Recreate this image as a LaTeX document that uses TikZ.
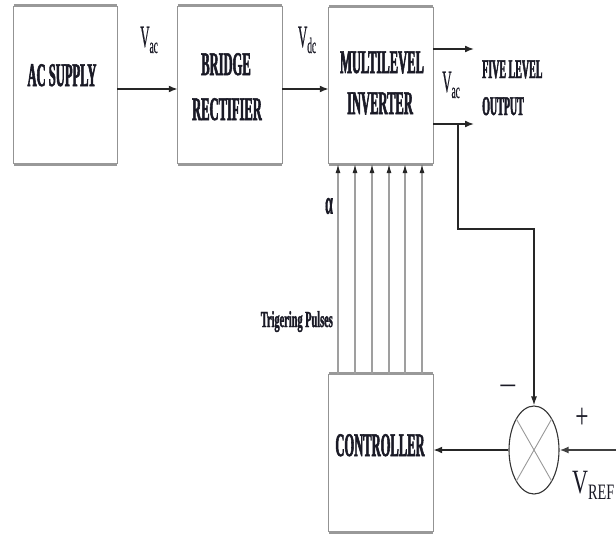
\documentclass[tikz,border=0pt]{standalone}
\usepackage{fontspec}
\setmainfont{Liberation Serif}
\newfontfamily\cBox[FakeStretch=0.38,BoldFeatures={FakeBold=1.6}]{Liberation Serif}
\newfontfamily\cOut[FakeStretch=0.37,BoldFeatures={FakeBold=1.6}]{Liberation Serif}
\newfontfamily\cTrig[FakeStretch=0.45,BoldFeatures={FakeBold=1.4}]{Liberation Serif}
\newfontfamily\cLab[FakeStretch=0.42,FakeBold=0.4]{Liberation Serif}
\newfontfamily\cRef[FakeStretch=0.65]{Liberation Serif}
\usetikzlibrary{arrows.meta,shapes.geometric,calc}
\definecolor{ink}{HTML}{1A1A26}
\begin{document}
\begin{tikzpicture}[x=1pt,y=-1pt,
  blk/.style={rectangle,draw=none,inner sep=0pt,minimum width=104pt,minimum height=158pt},
  side/.style={draw=gray!85,line width=0.9pt},
  tb/.style={draw=gray!80,line width=3pt},
  conn/.style={draw=black!85,line width=1.8pt,-{Latex[length=9pt,width=7pt]}},
  fbk/.style={draw=black!85,line width=1.3pt,-{Latex[length=9pt,width=6pt]}},
  trig/.style={draw=gray!75,line width=1.1pt,-{Latex[length=9pt,width=5pt,color=black!85]}},
  boxtxt/.style={anchor=base,inner sep=0pt,text=ink,font=\cBox\bfseries\fontsize{33}{33}\selectfont},
  lab/.style={anchor=base,inner sep=0pt,text=ink,font=\cLab\fontsize{31}{31}\selectfont}]
\useasboundingbox (0,0) rectangle (616,533);

% blocks
\node[blk,minimum width=103pt] (ac) at (65.5,85) {};
\node[blk] (br) at (230,85) {};
\node[blk,minimum height=157pt] (mi) at (381,85.5) {};
\node[blk] (ctl) at (381,453) {};
\foreach \b in {ac,br,mi,ctl}{
  \draw[side] (\b.north west) -- (\b.south west);
  \draw[side] (\b.north east) -- (\b.south east);
  \draw[tb] (\b.north west) -- (\b.north east);
  \draw[tb] (\b.south west) -- (\b.south east);
}

% block texts
\node[boxtxt] (tac) at (62,86) {AC SUPPLY};
\node[boxtxt] (tbr1) at (226,75) {BRIDGE};
\node[boxtxt] (tbr2) at (227,120) {RECTIFIER};
\node[boxtxt] (tmi1) at (382,73) {MULTILEVEL};
\node[boxtxt] (tmi2) at (380,114) {INVERTER};
\node[boxtxt] (tctl) at (380,456) {CONTROLLER};

% summing junction
\node[ellipse,draw=black!80,line width=1.1pt,minimum width=50pt,minimum height=88pt,inner sep=0pt] (sum) at (534,450) {};
\draw[draw=gray!80,line width=0.9pt] ($(sum.center)+(-17.7,-31.1)$) -- ($(sum.center)+(17.7,31.1)$);
\draw[draw=gray!80,line width=0.9pt] ($(sum.center)+(17.7,-31.1)$) -- ($(sum.center)+(-17.7,31.1)$);

% forward path
\draw[conn] ([yshift=-4pt]ac.east) -- ([yshift=-4pt]br.west);
\draw[conn] ([yshift=-4pt]br.east) -- ([yshift=-3.5pt]mi.west);
\node[lab] (vac1) at (149,47) {V\raisebox{-6pt}{\fontsize{22}{22}\selectfont ac}};
\node[lab] (vdc) at (307,47) {V\raisebox{-6pt}{\fontsize{22}{22}\selectfont dc}};

% outputs
\coordinate (o1) at (474,49);
\coordinate (o2) at (474,124);
\draw[conn,line width=1.6pt] (mi.east |- o1) -- (o1);
\draw[conn,line width=1.6pt] (mi.east |- o2) -- (o2);
\node[lab] (vac2) at (451,92) {V\raisebox{-6pt}{\fontsize{22}{22}\selectfont ac}};
\node[anchor=base west,inner sep=0pt,text=ink,font=\cOut\bfseries\fontsize{27}{27}\selectfont] (fl1) at (482,78) {FIVE LEVEL};
\node[anchor=base west,inner sep=0pt,text=ink,font=\cOut\bfseries\fontsize{27}{27}\selectfont] (fl2) at (482,115) {OUTPUT};

% feedback
\coordinate (fb) at (458,124);
\draw[fbk] (fb) -- (458,229) -| (sum.north);
\node[anchor=center,inner sep=0pt,text=ink,font=\fontsize{32}{32}\selectfont] (minus) at (508,391) {−};
\node[anchor=center,inner sep=0pt,text=ink,font=\cRef\fontsize{36}{36}\selectfont] (plus) at (582,418) {+};

% reference
\coordinate (vin) at (616,450);
\draw[conn,draw=black!75] (vin) -- (sum.east);
\node[anchor=base west,inner sep=0pt,text=ink,font=\cRef\fontsize{34}{34}\selectfont] (vref) at (572,493) {V\raisebox{-6pt}{\fontsize{22}{22}\selectfont REF}};

% to controller
\draw[conn] (sum.west) -- (sum.west -| ctl.east);

% triggering pulses
\foreach \x in {338,355,372,389,405,422}{
  \draw[trig] (ctl.north -| \x,0) -- (mi.south -| \x,0);
}
\node[anchor=center,inner sep=0pt,text=ink,font=\cLab\bfseries\fontsize{34}{34}\selectfont] (alpha) at (329,206) {α};
\node[anchor=base east,inner sep=0pt,text=ink,font=\cTrig\bfseries\fontsize{23}{23}\selectfont] (tp) at (333,327) {Trigering Pulses};
\end{tikzpicture}
\end{document}
